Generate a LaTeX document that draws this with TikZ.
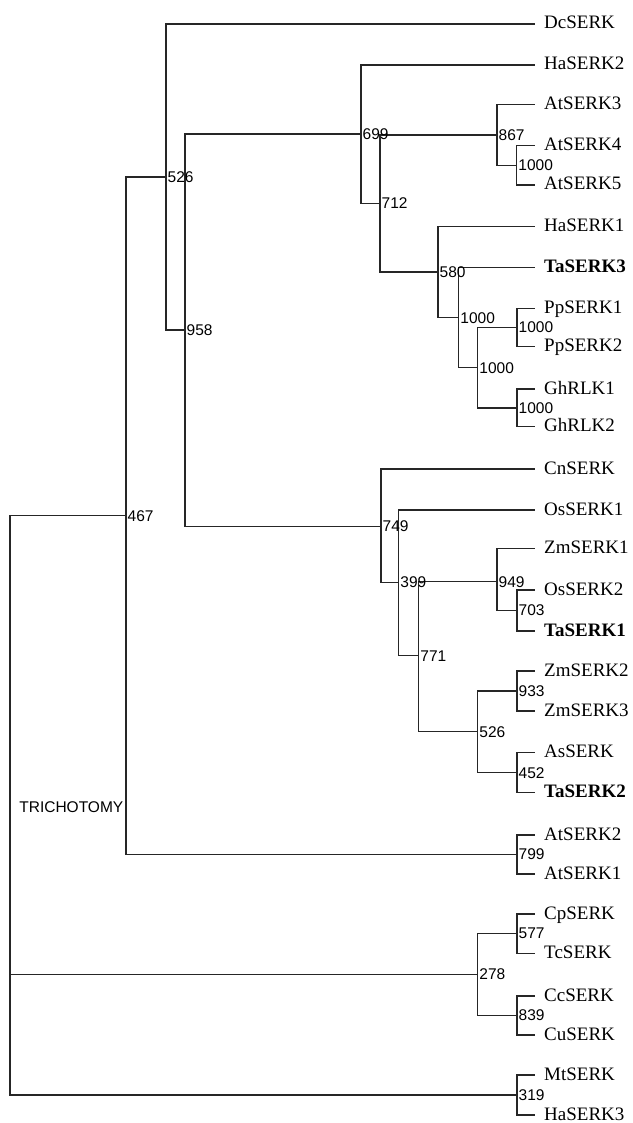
\documentclass[tikz,border=0pt]{standalone}
\usepackage{fontspec}
\setmainfont{Liberation Serif}
\newfontfamily\numfont{Liberation Sans}
\begin{document}
\begin{tikzpicture}[x=1pt,y=-1pt,
  branch/.style={line width=1.35pt,draw=black!85},
  leaf/.style={anchor=west,inner xsep=9pt,inner ysep=0pt,text height=13pt,text depth=3pt,font=\fontsize{19}{22}\selectfont},
  bleaf/.style={leaf,font=\fontsize{19}{22}\selectfont\bfseries},
  bs/.style={anchor=west,inner sep=0pt,xshift=1.5pt,text depth=0pt,font=\numfont\fontsize{15.5}{18}\selectfont},
  note/.style={anchor=east,inner sep=0pt,font=\numfont\fontsize{15.5}{18}\selectfont}]
\useasboundingbox (0,0) rectangle (632,1123);
% leaves
\node[leaf]  (DcSERK)  at (535,24)    {DcSERK};
\node[leaf]  (HaSERK2) at (535,65)    {HaSERK2};
\node[leaf]  (AtSERK3) at (535,104.3) {AtSERK3};
\node[leaf]  (AtSERK4) at (535,145.7) {AtSERK4};
\node[leaf]  (AtSERK5) at (535,185)   {AtSERK5};
\node[leaf]  (HaSERK1) at (535,226.7) {HaSERK1};
\node[bleaf] (TaSERK3) at (535,267.7) {TaSERK3};
\node[leaf]  (PpSERK1) at (535,308.3) {PpSERK1};
\node[leaf]  (PpSERK2) at (535,346.7) {PpSERK2};
\node[leaf]  (GhRLK1)  at (535,389)   {GhRLK1};
\node[leaf]  (GhRLK2)  at (535,426.7) {GhRLK2};
\node[leaf]  (CnSERK)  at (535,469)   {CnSERK};
\node[leaf]  (OsSERK1) at (535,510)   {OsSERK1};
\node[leaf]  (ZmSERK1) at (535,548.3) {ZmSERK1};
\node[leaf]  (OsSERK2) at (535,590)   {OsSERK2};
\node[bleaf] (TaSERK1) at (535,631)   {TaSERK1};
\node[leaf]  (ZmSERK2) at (535,671)   {ZmSERK2};
\node[leaf]  (ZmSERK3) at (535,711)   {ZmSERK3};
\node[leaf]  (AsSERK)  at (535,752.7) {AsSERK};
\node[bleaf] (TaSERK2) at (535,792.7) {TaSERK2};
\node[leaf]  (AtSERK2) at (535,835)   {AtSERK2};
\node[leaf]  (AtSERK1) at (535,874)   {AtSERK1};
\node[leaf]  (CpSERK)  at (535,914)   {CpSERK};
\node[leaf]  (TcSERK)  at (535,953.3) {TcSERK};
\node[leaf]  (CcSERK)  at (535,996)   {CcSERK};
\node[leaf]  (CuSERK)  at (535,1035)  {CuSERK};
\node[leaf]  (MtSERK)  at (535,1075)  {MtSERK};
\node[leaf]  (HaSERK3) at (535,1115)  {HaSERK3};
% internal nodes
\coordinate (root)  at (10,974.3);
\coordinate (n467)  at (126,515.7);
\coordinate (n526a) at (166,177);
\coordinate (n958)  at (185,330);
\coordinate (n699)  at (361,134);
\coordinate (n712)  at (380,203.3);
\coordinate (n867)  at (497,135);
\coordinate (nAt45) at (516.7,165.3);
\coordinate (n580)  at (438,272);
\coordinate (n1000b) at (458.7,317.7);
\coordinate (n1000c) at (477.7,367.7);
\coordinate (nPp)   at (517,327.5);
\coordinate (nGh)   at (517,408);
\coordinate (n749)  at (381,526.3);
\coordinate (n399)  at (398.7,582.3);
\coordinate (n771)  at (418.7,655.7);
\coordinate (n949)  at (497,581.7);
\coordinate (n703)  at (517,610.5);
\coordinate (n526b) at (477.7,731.7);
\coordinate (n933)  at (517,691);
\coordinate (n452)  at (517,772.7);
\coordinate (n799)  at (517,854.5);
\coordinate (n278)  at (477.7,974.3);
\coordinate (n577)  at (517,933.6);
\coordinate (n839)  at (517,1015.5);
\coordinate (n319)  at (517,1095);
% branches
\draw[branch] (root) |- (n467);
\draw[branch] (root) -- (n278);
\draw[branch] (root) |- (n319);
\draw[branch] (n467) |- (n526a);
\draw[branch] (n467) |- (n799);
\draw[branch] (n526a) |- (DcSERK.west);
\draw[branch] (n526a) |- (n958);
\draw[branch] (n958) |- (n699);
\draw[branch] (n958) |- (n749);
\draw[branch] (n699) |- (HaSERK2.west);
\draw[branch] (n699) |- (n712);
\draw[branch] (n712) |- (n867);
\draw[branch] (n712) |- (n580);
\draw[branch] (n867) |- (AtSERK3.west);
\draw[branch] (n867) |- (nAt45);
\draw[branch] (nAt45) |- (AtSERK4.west);
\draw[branch] (nAt45) |- (AtSERK5.west);
\draw[branch] (n580) |- (HaSERK1.west);
\draw[branch] (n580) |- (n1000b);
\draw[branch] (n1000b) |- (TaSERK3.west);
\draw[branch] (n1000b) |- (n1000c);
\draw[branch] (n1000c) |- (nPp);
\draw[branch] (n1000c) |- (nGh);
\draw[branch] (nPp) |- (PpSERK1.west);
\draw[branch] (nPp) |- (PpSERK2.west);
\draw[branch] (nGh) |- (GhRLK1.west);
\draw[branch] (nGh) |- (GhRLK2.west);
\draw[branch] (n749) |- (CnSERK.west);
\draw[branch] (n749) |- (n399);
\draw[branch] (n399) |- (OsSERK1.west);
\draw[branch] (n399) |- (n771);
\draw[branch] (n771) |- (n949);
\draw[branch] (n771) |- (n526b);
\draw[branch] (n949) |- (ZmSERK1.west);
\draw[branch] (n949) |- (n703);
\draw[branch] (n703) |- (OsSERK2.west);
\draw[branch] (n703) |- (TaSERK1.west);
\draw[branch] (n526b) |- (n933);
\draw[branch] (n526b) |- (n452);
\draw[branch] (n933) |- (ZmSERK2.west);
\draw[branch] (n933) |- (ZmSERK3.west);
\draw[branch] (n452) |- (AsSERK.west);
\draw[branch] (n452) |- (TaSERK2.west);
\draw[branch] (n799) |- (AtSERK2.west);
\draw[branch] (n799) |- (AtSERK1.west);
\draw[branch] (n278) |- (n577);
\draw[branch] (n278) |- (n839);
\draw[branch] (n577) |- (CpSERK.west);
\draw[branch] (n577) |- (TcSERK.west);
\draw[branch] (n839) |- (CcSERK.west);
\draw[branch] (n839) |- (CuSERK.west);
\draw[branch] (n319) |- (MtSERK.west);
\draw[branch] (n319) |- (HaSERK3.west);
% bootstrap values
\node[bs] (l467)  at (n467)  {467};
\node[bs] (l526a) at (n526a) {526};
\node[bs] (l958)  at (n958)  {958};
\node[bs] (l699)  at (n699)  {699};
\node[bs] (l712)  at (n712)  {712};
\node[bs] (l867)  at (n867)  {867};
\node[bs] (lAt45) at (nAt45) {1000};
\node[bs] (l580)  at (n580)  {580};
\node[bs] (l1000b) at (n1000b) {1000};
\node[bs] (l1000c) at (n1000c) {1000};
\node[bs] (lPp)   at (nPp)   {1000};
\node[bs] (lGh)   at (nGh)   {1000};
\node[bs] (l749)  at (n749)  {749};
\node[bs] (l399)  at (n399)  {399};
\node[bs] (l771)  at (n771)  {771};
\node[bs] (l949)  at (n949)  {949};
\node[bs] (l703)  at (n703)  {703};
\node[bs] (l526b) at (n526b) {526};
\node[bs] (l933)  at (n933)  {933};
\node[bs] (l452)  at (n452)  {452};
\node[bs] (l799)  at (n799)  {799};
\node[bs] (l278)  at (n278)  {278};
\node[bs] (l577)  at (n577)  {577};
\node[bs] (l839)  at (n839)  {839};
\node[bs] (l319)  at (n319)  {319};
\node[note] (tri) at (123.5,806.7) {TRICHOTOMY};
\end{tikzpicture}
\end{document}
